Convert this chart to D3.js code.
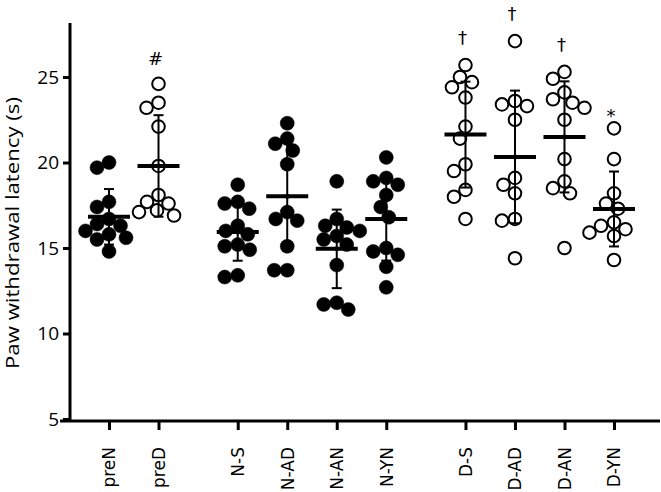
<!DOCTYPE html>
<html>
<head>
<meta charset="utf-8">
<script src="https://cdn.jsdelivr.net/npm/d3@7"></script>
<style>
  body { margin: 0; background: #fff; }
  svg { display: block; }
</style>
</head>
<body>
<svg id="chart" width="661" height="492"></svg>
<script>
// group names, left to right
const categories = ["preN", "preD", "N-S", "N-AD", "N-AN", "N-YN", "D-S", "D-AD", "D-AN", "D-YN"];

// paw withdrawal latency (s), one value per animal
const preN = [20.0, 19.7, 17.7, 17.4, 16.7, 16.4, 16.3, 16.0, 15.8, 15.5, 15.6, 14.8];
const preD = [24.6, 23.5, 23.2, 22.1, 19.8, 18.1, 17.7, 17.6, 17.2, 17.1, 16.9];
const nS   = [18.7, 17.7, 17.6, 17.3, 16.3, 16.0, 15.8, 15.2, 15.1, 14.9, 13.4, 13.3];
const nAD  = [22.3, 21.4, 21.1, 20.7, 19.9, 17.1, 16.7, 16.6, 15.1, 13.7, 13.7];
const nAN  = [18.9, 16.7, 16.3, 16.2, 16.0, 15.7, 15.5, 15.2, 14.0, 11.8, 11.7, 11.4];
const nYN  = [20.3, 19.1, 18.9, 18.7, 18.1, 17.4, 16.8, 15.0, 14.8, 14.6, 13.9, 12.7];
const dS   = [25.7, 25.0, 24.7, 24.4, 23.8, 22.1, 21.4, 19.9, 19.5, 18.4, 18.0, 16.7];
const dAD  = [27.1, 23.6, 23.4, 23.3, 22.5, 19.1, 18.7, 18.2, 16.7, 16.6, 14.4];
const dAN  = [25.3, 24.9, 24.1, 23.7, 23.5, 23.2, 22.5, 20.2, 18.9, 18.5, 18.2, 15.0];
const dYN  = [22.0, 20.2, 18.2, 17.6, 17.3, 16.5, 16.3, 16.1, 15.9, 15.7, 14.3];
const series = [preN, preD, nS, nAD, nAN, nYN, dS, dAD, dAN, dYN];

// groups drawn with open circles
const openCats = ["preD", "D-S", "D-AD", "D-AN", "D-YN"];

// significance marks
const markCats = ["preD", "D-S", "D-AD", "D-AN", "D-YN"];
const markSyms = ["#", "\u2020", "\u2020", "\u2020", "*"];

const yTicks = [5, 10, 15, 20, 25];

const svg = d3.select("#chart");

const y = d3.scaleLinear().domain([5, 28.16]).range([419, 23]);

// small gap between the pre / N / D blocks
const block = c => c.startsWith("pre") ? 0 : (c.startsWith("N") ? 1 : 2);
const slot = categories.map((c, i) => i + 0.6 * block(c));
const xs = d3.scaleLinear().domain([0, 10.2]).range([109, 614]);
const x = d3.scaleOrdinal().domain(categories).range(slot.map(s => xs(s)));

// simple dodge so the points of a group don't pile up
function dodge(vals, minDist) {
    const order = d3.range(vals.length).sort((a, b) => vals[b] - vals[a]);
    const placed = [];
    const off = new Array(vals.length);
    for (const i of order) {
        const py = y(vals[i]);
        let best = 0;
        for (let k = 0; k < 400; k++) {
            const cand = (k % 2 ? -Math.ceil(k / 2) : k / 2) * 0.5;
            if (placed.every(p => Math.hypot(p.x - cand, p.y - py) >= minDist)) { best = cand; break; }
        }
        placed.push({x: best, y: py});
        off[i] = best;
    }
    return off;
}

// axes
const yAxis = svg.append("g")
    .attr("transform", "translate(70,0)")
    .call(d3.axisLeft(y).tickValues(yTicks).tickSize(7).tickPadding(4).tickSizeOuter(0));
yAxis.select(".domain").remove();
yAxis.selectAll(".tick line").attr("stroke-width", 3);
yAxis.selectAll(".tick text")
    .attr("font-family", "'Open Sans', sans-serif")
    .attr("font-size", 19)
    .attr("fill", "#000");

svg.append("line")
    .attr("x1", 70).attr("x2", 70).attr("y1", 23).attr("y2", 422)
    .attr("stroke", "#000").attr("stroke-width", 3);

const xAxis = svg.append("g")
    .attr("transform", "translate(0,421)")
    .call(d3.axisBottom(x).tickSize(9).tickSizeOuter(0));
xAxis.select(".domain").remove();
xAxis.selectAll(".tick line").attr("stroke-width", 3);
xAxis.selectAll(".tick text")
    .attr("font-family", "'DejaVu Sans', sans-serif")
    .attr("font-size", 17)
    .attr("fill", "#000")
    .attr("text-anchor", "end")
    .attr("transform", "translate(0,26) rotate(-90)")
    .attr("x", 0).attr("y", 0).attr("dy", "0.35em");

svg.append("line")
    .attr("x1", 60).attr("x2", 660).attr("y1", 421).attr("y2", 421)
    .attr("stroke", "#000").attr("stroke-width", 3);

svg.append("text")
    .attr("transform", "translate(13,233) rotate(-90)")
    .attr("text-anchor", "middle")
    .attr("dy", "0.35em")
    .attr("font-family", "'Open Sans', sans-serif")
    .attr("font-size", 18)
    .attr("textLength", 272)
    .attr("lengthAdjust", "spacingAndGlyphs")
    .text("Paw withdrawal latency (s)");

// points, then mean +/- SD on top
categories.forEach((cat, gi) => {
    const vals = series[gi];
    const cx = x(cat);
    const open = openCats.includes(cat);
    const offs = dodge(vals, 13);
    const g = svg.append("g");

    g.selectAll("circle.pt")
        .data(vals)
        .join("circle")
        .attr("class", "pt")
        .attr("cx", (d, i) => cx + offs[i])
        .attr("cy", d => y(d))
        .attr("r", open ? 6.3 : 7)
        .attr("fill", open ? "none" : "#000")
        .attr("stroke", "#000")
        .attr("stroke-width", open ? 2 : 0.5);

    const m = d3.mean(vals);
    const sd = d3.deviation(vals);
    g.append("line")
        .attr("x1", cx).attr("x2", cx).attr("y1", y(m - sd)).attr("y2", y(m + sd))
        .attr("stroke", "#000").attr("stroke-width", 2);
    [m - sd, m + sd].forEach(v => {
        g.append("line")
            .attr("x1", cx - 5).attr("x2", cx + 5).attr("y1", y(v)).attr("y2", y(v))
            .attr("stroke", "#000").attr("stroke-width", 2);
    });
    g.append("line")
        .attr("x1", cx - 21).attr("x2", cx + 21).attr("y1", y(m)).attr("y2", y(m))
        .attr("stroke", "#000").attr("stroke-width", 4);
    g.append("circle")
        .attr("cx", cx).attr("cy", y(m)).attr("r", 2.5).attr("fill", "#000");
});

// significance symbols above the highest point
const symOffset = {"#": 19, "\u2020": 21, "*": 6};
markCats.forEach((cat, i) => {
    const top = d3.max(series[categories.indexOf(cat)]);
    svg.append("text")
        .attr("x", x(cat) - 3)
        .attr("y", y(top) - symOffset[markSyms[i]])
        .attr("text-anchor", "middle")
        .attr("font-family", "'DejaVu Sans', sans-serif")
        .attr("font-size", 18)
        .text(markSyms[i]);
});
</script>
</body>
</html>
